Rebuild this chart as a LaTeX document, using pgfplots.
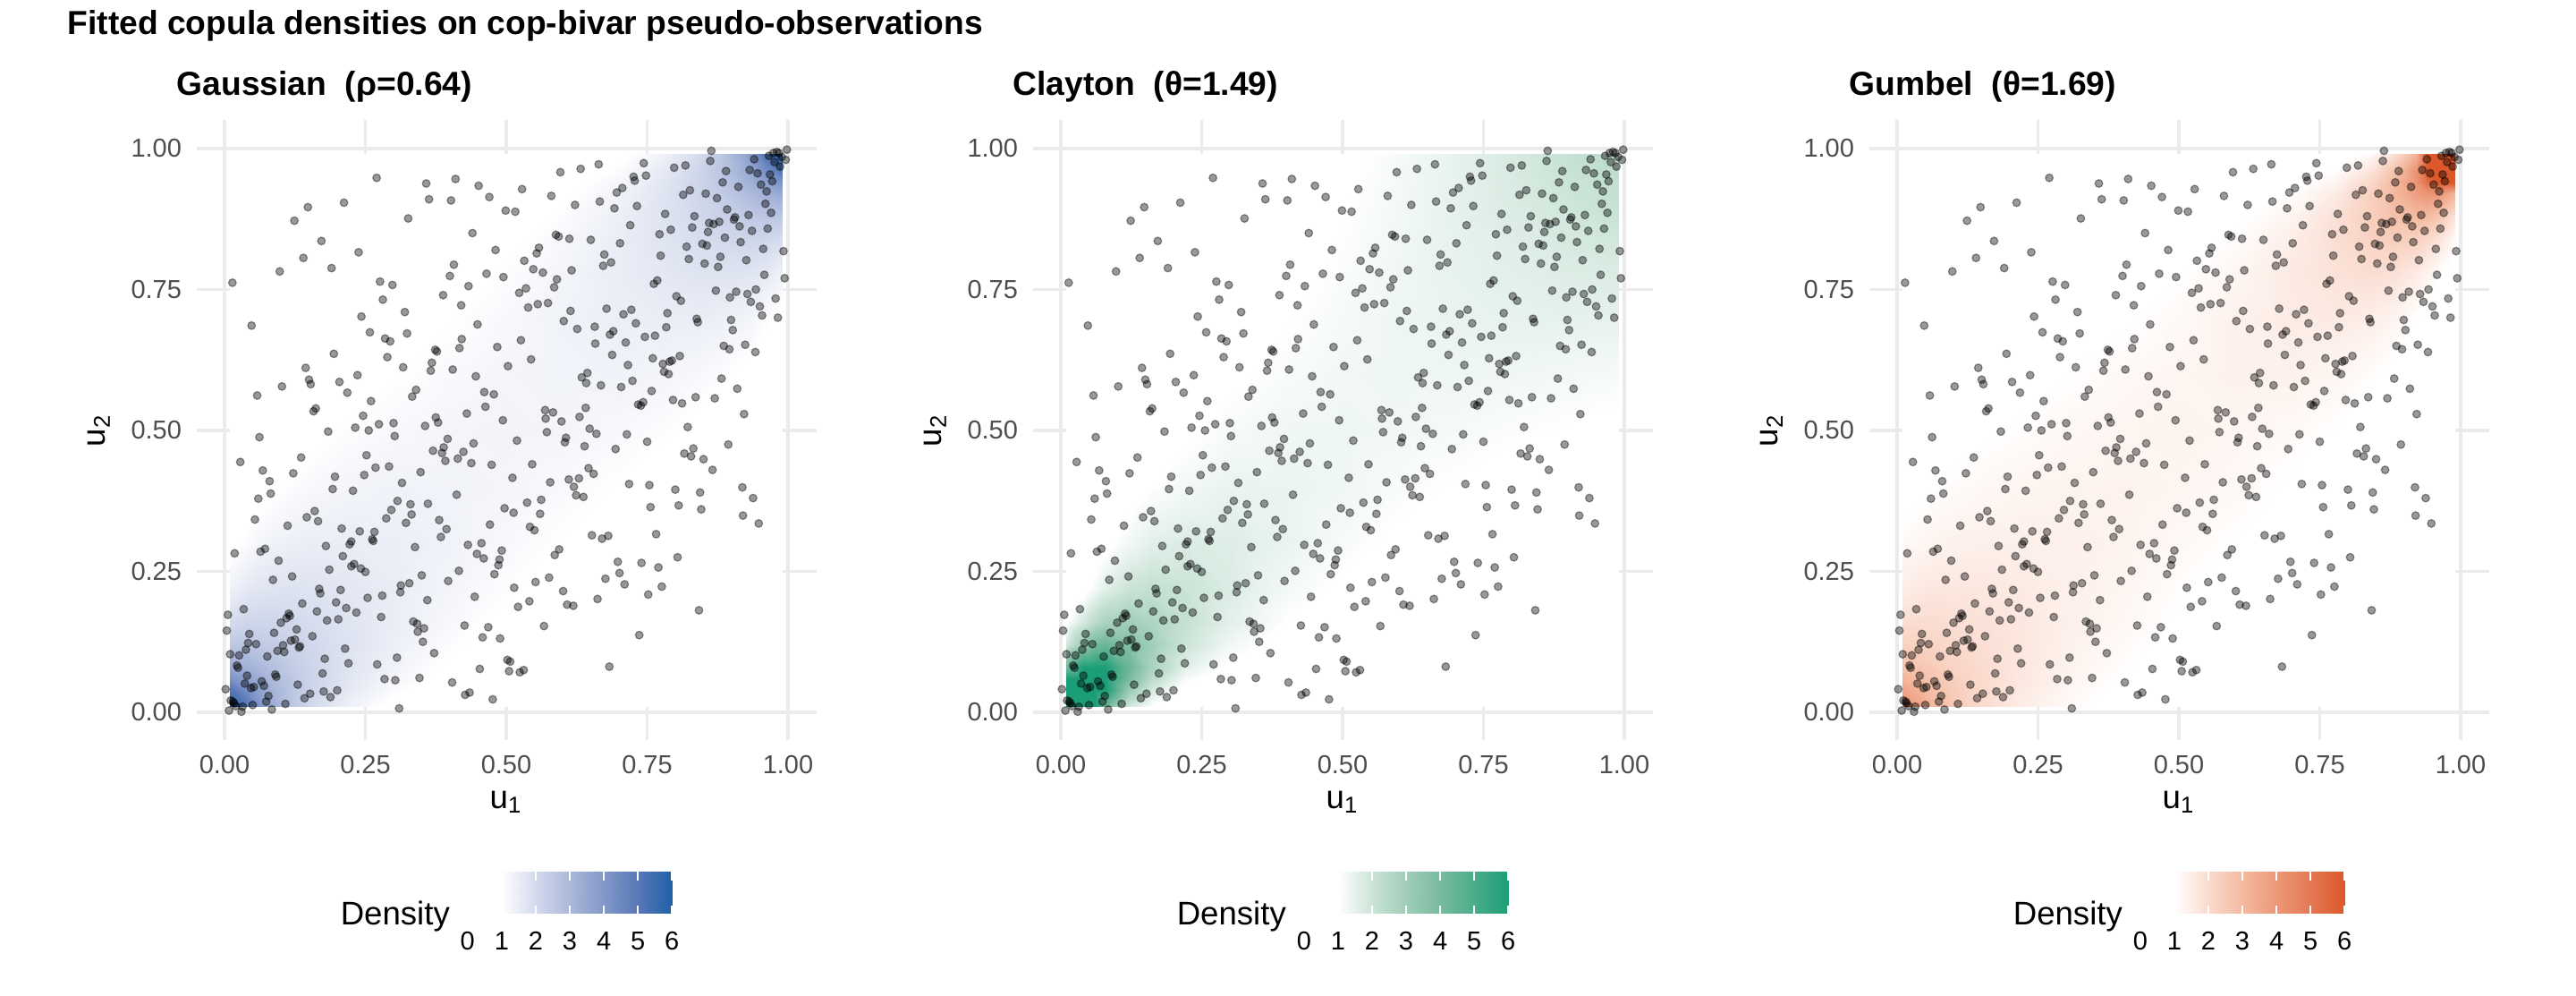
\documentclass[border=0pt]{standalone}
\usepackage{pgfplots}
\usepackage{pgfplotstable}
\usepackage{fontspec}
\pgfplotsset{compat=1.18}
\setmainfont{Liberation Sans}
\definecolor{gridc}{HTML}{EBEBEB}
\definecolor{tickc}{HTML}{4D4D4D}
\pgfplotsset{
 colormap={gauss}{rgb255(0)=(255,255,255) rgb255(1)=(255,255,255) rgb255(2)=(211,218,236) rgb255(3)=(170,184,218) rgb255(4)=(130,152,200) rgb255(5)=(88,120,184) rgb255(6)=(32,96,168)},
 colormap={clay}{rgb255(0)=(255,255,255) rgb255(1)=(255,255,255) rgb255(2)=(203,228,216) rgb255(3)=(160,206,184) rgb255(4)=(120,187,158) rgb255(5)=(75,172,138) rgb255(6)=(27,158,119)},
 colormap={gumb}{rgb255(0)=(255,255,255) rgb255(1)=(255,255,255) rgb255(2)=(250,218,205) rgb255(3)=(244,186,160) rgb255(4)=(236,152,120) rgb255(5)=(228,120,84) rgb255(6)=(220,88,42)},
}
\pgfplotstableread{
x y
0.270 0.948
0.358 0.938
0.410 0.946
0.451 0.934
0.470 0.914
0.499 0.890
0.363 0.910
0.402 0.908
0.212 0.904
0.148 0.896
0.124 0.872
0.326 0.876
0.440 0.850
0.481 0.820
0.172 0.836
0.238 0.816
0.140 0.806
0.190 0.788
0.098 0.782
0.407 0.794
0.400 0.774
0.465 0.778
0.495 0.772
0.014 0.762
0.276 0.764
0.298 0.758
0.433 0.756
0.281 0.732
0.388 0.740
0.420 0.722
0.320 0.710
0.243 0.702
0.449 0.688
0.048 0.686
0.258 0.674
0.324 0.672
0.864 0.996
0.998 0.998
0.862 0.978
0.940 0.981
0.966 0.987
0.974 0.992
0.980 0.994
0.984 0.992
0.989 0.985
0.996 0.980
0.976 0.976
0.986 0.968
0.744 0.974
0.664 0.972
0.632 0.964
0.596 0.958
0.798 0.966
0.818 0.970
0.890 0.960
0.932 0.962
0.946 0.956
0.968 0.954
0.972 0.942
0.748 0.952
0.726 0.950
0.728 0.943
0.884 0.940
0.912 0.932
0.952 0.936
0.962 0.924
0.528 0.928
0.706 0.930
0.696 0.922
0.826 0.926
0.814 0.918
0.854 0.920
0.874 0.912
0.580 0.916
0.666 0.906
0.622 0.900
0.960 0.902
0.692 0.894
0.732 0.898
0.892 0.892
0.516 0.888
0.782 0.884
0.834 0.880
0.970 0.886
0.930 0.882
0.906 0.878
0.904 0.874
0.860 0.868
0.868 0.866
0.878 0.870
0.720 0.864
0.914 0.862
0.830 0.860
0.792 0.856
0.936 0.854
0.964 0.858
0.858 0.852
0.772 0.848
0.588 0.847
0.593 0.844
0.612 0.840
0.650 0.838
0.888 0.842
0.916 0.834
0.702 0.832
0.848 0.831
0.856 0.828
0.820 0.826
0.558 0.824
0.956 0.822
0.992 0.818
0.554 0.814
0.674 0.812
0.774 0.810
0.880 0.808
0.532 0.801
0.824 0.804
0.926 0.802
0.686 0.798
0.852 0.796
0.672 0.792
0.876 0.790
0.548 0.786
0.565 0.780
0.616 0.784
0.958 0.776
0.994 0.770
0.590 0.768
0.768 0.766
0.762 0.760
0.585 0.754
0.535 0.752
0.523 0.744
0.872 0.748
0.908 0.746
0.943 0.750
0.928 0.742
0.897 0.736
0.978 0.734
0.802 0.738
0.810 0.730
0.934 0.728
0.539 0.718
0.556 0.724
0.574 0.726
0.950 0.720
0.614 0.712
0.678 0.716
0.722 0.714
0.708 0.706
0.786 0.708
0.954 0.704
0.982 0.700
0.838 0.698
0.840 0.692
0.899 0.696
0.602 0.694
0.730 0.690
0.657 0.684
0.626 0.680
0.784 0.683
0.902 0.678
0.690 0.676
0.684 0.670
0.285 0.663
0.294 0.658
0.421 0.662
0.484 0.648
0.417 0.646
0.374 0.643
0.377 0.640
0.194 0.636
0.289 0.630
0.368 0.620
0.503 0.614
0.144 0.611
0.317 0.612
0.366 0.606
0.405 0.608
0.446 0.596
0.236 0.598
0.150 0.590
0.204 0.586
0.153 0.582
0.102 0.578
0.218 0.567
0.058 0.562
0.340 0.572
0.333 0.560
0.461 0.568
0.478 0.564
0.260 0.552
0.463 0.542
0.162 0.539
0.158 0.534
0.430 0.530
0.246 0.526
0.375 0.523
0.379 0.514
0.494 0.518
0.300 0.513
0.274 0.511
0.356 0.508
0.232 0.505
0.256 0.500
0.184 0.498
0.302 0.490
0.062 0.488
0.396 0.485
0.442 0.477
0.389 0.470
0.370 0.464
0.386 0.460
0.424 0.462
0.252 0.456
0.136 0.452
0.414 0.450
0.392 0.446
0.028 0.444
0.438 0.442
0.474 0.439
0.292 0.436
0.268 0.434
0.068 0.429
0.348 0.426
0.122 0.424
0.248 0.421
0.196 0.418
0.080 0.410
0.315 0.407
0.192 0.396
0.228 0.393
0.082 0.388
0.412 0.386
0.060 0.379
0.307 0.375
0.330 0.369
0.361 0.370
0.497 0.362
0.296 0.359
0.160 0.357
0.332 0.351
0.146 0.346
0.287 0.344
0.054 0.342
0.166 0.339
0.381 0.341
0.322 0.336
0.471 0.333
0.112 0.331
0.208 0.326
0.394 0.325
0.240 0.321
0.266 0.320
0.526 0.660
0.658 0.654
0.712 0.656
0.746 0.666
0.764 0.668
0.886 0.650
0.896 0.644
0.924 0.652
0.942 0.639
0.544 0.626
0.688 0.634
0.760 0.628
0.808 0.632
0.794 0.624
0.790 0.622
0.778 0.618
0.716 0.616
0.780 0.604
0.788 0.600
0.644 0.602
0.634 0.594
0.882 0.592
0.724 0.588
0.642 0.584
0.668 0.580
0.704 0.577
0.910 0.574
0.758 0.570
0.836 0.559
0.796 0.554
0.870 0.557
0.812 0.548
0.743 0.550
0.734 0.546
0.739 0.544
0.569 0.536
0.583 0.532
0.641 0.540
0.922 0.529
0.630 0.524
0.570 0.521
0.598 0.516
0.822 0.506
0.648 0.503
0.572 0.497
0.660 0.494
0.714 0.493
0.519 0.482
0.606 0.487
0.604 0.479
0.750 0.480
0.639 0.472
0.894 0.475
0.694 0.467
0.832 0.468
0.816 0.459
0.828 0.454
0.850 0.449
0.546 0.440
0.866 0.430
0.646 0.433
0.655 0.423
0.511 0.416
0.629 0.415
0.611 0.413
0.578 0.408
0.718 0.405
0.754 0.403
0.620 0.400
0.919 0.399
0.800 0.395
0.844 0.390
0.624 0.385
0.637 0.382
0.938 0.380
0.562 0.377
0.537 0.372
0.756 0.364
0.806 0.367
0.846 0.360
0.513 0.354
0.560 0.352
0.920 0.349
0.948 0.335
0.542 0.329
0.550 0.323
0.018 0.282
0.064 0.285
0.072 0.290
0.180 0.295
0.222 0.298
0.225 0.303
0.262 0.307
0.264 0.304
0.338 0.293
0.384 0.311
0.432 0.297
0.456 0.300
0.492 0.287
0.448 0.281
0.460 0.273
0.488 0.271
0.486 0.261
0.096 0.269
0.210 0.277
0.230 0.263
0.225 0.259
0.242 0.255
0.186 0.253
0.250 0.249
0.416 0.251
0.479 0.245
0.120 0.241
0.086 0.235
0.350 0.243
0.397 0.233
0.328 0.229
0.313 0.225
0.168 0.219
0.170 0.211
0.206 0.217
0.312 0.213
0.280 0.207
0.254 0.203
0.444 0.205
0.360 0.199
0.138 0.193
0.198 0.195
0.216 0.185
0.034 0.183
0.164 0.179
0.234 0.177
0.006 0.173
0.114 0.175
0.116 0.171
0.110 0.167
0.100 0.159
0.182 0.163
0.202 0.165
0.278 0.169
0.335 0.161
0.342 0.157
0.426 0.154
0.468 0.151
0.354 0.149
0.343 0.143
0.004 0.145
0.128 0.147
0.088 0.141
0.044 0.139
0.156 0.135
0.458 0.133
0.489 0.131
0.042 0.123
0.056 0.121
0.125 0.129
0.118 0.127
0.352 0.125
0.104 0.119
0.134 0.117
0.132 0.115
0.038 0.111
0.214 0.113
0.094 0.109
0.106 0.107
0.010 0.103
0.026 0.101
0.076 0.099
0.372 0.105
0.178 0.095
0.306 0.097
0.502 0.093
0.507 0.090
0.220 0.087
0.271 0.085
0.022 0.083
0.024 0.079
0.453 0.077
0.174 0.069
0.040 0.065
0.090 0.067
0.092 0.063
0.284 0.059
0.303 0.057
0.346 0.061
0.505 0.073
0.066 0.055
0.036 0.051
0.404 0.053
0.070 0.047
0.130 0.049
0.052 0.045
0.047 0.043
0.002 0.041
0.200 0.039
0.176 0.037
0.152 0.033
0.435 0.035
0.427 0.031
0.078 0.029
0.142 0.025
0.188 0.027
0.476 0.023
0.074 0.019
0.011 0.021
0.015 0.019
0.017 0.016
0.050 0.013
0.108 0.015
0.032 0.010
0.020 0.011
0.084 0.005
0.008 0.003
0.030 0.001
0.310 0.007
0.652 0.314
0.670 0.308
0.681 0.313
0.766 0.316
0.594 0.289
0.586 0.279
0.804 0.275
0.698 0.267
0.740 0.265
0.770 0.257
0.701 0.247
0.576 0.239
0.676 0.237
0.552 0.231
0.710 0.227
0.776 0.223
0.514 0.221
0.601 0.215
0.752 0.209
0.541 0.197
0.662 0.201
0.608 0.191
0.619 0.189
0.521 0.187
0.842 0.181
0.567 0.153
0.736 0.137
0.683 0.081
0.531 0.075
0.524 0.071
}\pts
\pgfplotstableread{
x y g c h
0.01 0.01 6 6 4.38
0.04 0.01 5.13 6 3.65
0.06 0.01 4.15 6 3.12
0.08 0.01 3.47 4.20 2.80
0.12 0.01 2.55 1.80 2.27
0.16 0.01 1.95 1.00 1.90
0.22 0.01 1.37 0.30 1.49
0.30 0.01 0.88 0.14 1.14
0.40 0.01 0.52 0.06 0.83
0.50 0.01 0.30 0.03 0.60
0.60 0.01 0.16 0.02 0.44
0.70 0.01 0.08 0.01 0.30
0.78 0.01 0.04 0.01 0.22
0.84 0.01 0.02 0.01 0.16
0.88 0.01 0.01 0.01 0.13
0.92 0.01 0.01 0.01 0.09
0.94 0.01 0 0.01 0.07
0.96 0.01 0 0.01 0.05
0.99 0.01 0 0.01 0.03
0.01 0.04 5.13 6 3.65
0.04 0.04 4.30 6 3.20
0.06 0.04 3.72 6 2.86
0.08 0.04 3.26 6 2.62
0.12 0.04 2.59 3.20 2.23
0.16 0.04 2.11 1.80 1.93
0.22 0.04 1.58 0.75 1.58
0.30 0.04 1.11 0.37 1.24
0.40 0.04 0.71 0.19 0.92
0.50 0.04 0.45 0.11 0.69
0.60 0.04 0.25 0.07 0.50
0.70 0.04 0.13 0.05 0.36
0.78 0.04 0.06 0.04 0.26
0.84 0.04 0.03 0.03 0.19
0.88 0.04 0.02 0.03 0.15
0.92 0.04 0.01 0.03 0.11
0.94 0.04 0.01 0.03 0.09
0.96 0.04 0 0.02 0.06
0.99 0.04 0 0.02 0.04
0.01 0.06 4.15 6 3.12
0.04 0.06 3.72 6 2.86
0.06 0.06 3.34 6 2.64
0.08 0.06 3.03 6 2.49
0.12 0.06 2.52 4.00 2.16
0.16 0.06 2.13 2.40 1.93
0.22 0.06 1.68 1.18 1.63
0.30 0.06 1.24 0.62 1.30
0.40 0.06 0.84 0.33 0.99
0.50 0.06 0.56 0.20 0.75
0.60 0.06 0.34 0.13 0.56
0.70 0.06 0.19 0.09 0.39
0.78 0.06 0.09 0.07 0.29
0.84 0.06 0.05 0.06 0.21
0.88 0.06 0.02 0.05 0.17
0.92 0.06 0.01 0.05 0.12
0.94 0.06 0.01 0.04 0.10
0.96 0.06 0.01 0.04 0.07
0.99 0.06 0 0.04 0.04
0.01 0.08 3.47 4.20 2.80
0.04 0.08 3.26 6 2.62
0.06 0.08 3.03 6 2.49
0.08 0.08 2.81 6 2.32
0.12 0.08 2.43 4.30 2.10
0.16 0.08 2.12 2.80 1.91
0.22 0.08 1.73 1.55 1.64
0.30 0.08 1.33 0.86 1.35
0.40 0.08 0.94 0.47 1.05
0.50 0.08 0.66 0.29 0.81
0.60 0.08 0.43 0.19 0.60
0.70 0.08 0.25 0.13 0.43
0.78 0.08 0.13 0.11 0.31
0.84 0.08 0.07 0.09 0.23
0.88 0.08 0.03 0.08 0.18
0.92 0.08 0.02 0.07 0.13
0.94 0.08 0.01 0.07 0.10
0.96 0.08 0.01 0.07 0.08
0.99 0.08 0.01 0.06 0.05
0.01 0.12 2.55 1.80 2.27
0.04 0.12 2.59 3.20 2.23
0.06 0.12 2.52 4.00 2.16
0.08 0.12 2.43 4.30 2.10
0.12 0.12 2.23 3.70 1.97
0.16 0.12 2.03 3.00 1.84
0.22 0.12 1.75 2.01 1.65
0.30 0.12 1.43 1.27 1.40
0.40 0.12 1.09 0.76 1.13
0.50 0.12 0.81 0.49 0.90
0.60 0.12 0.57 0.33 0.68
0.70 0.12 0.36 0.24 0.50
0.78 0.12 0.21 0.19 0.37
0.84 0.12 0.12 0.16 0.27
0.88 0.12 0.06 0.14 0.21
0.92 0.12 0.03 0.13 0.15
0.94 0.12 0.02 0.12 0.12
0.96 0.12 0.02 0.12 0.09
0.99 0.12 0.01 0.11 0.05
0.01 0.16 1.95 1.00 1.90
0.04 0.16 2.11 1.80 1.93
0.06 0.16 2.13 2.40 1.93
0.08 0.16 2.12 2.80 1.91
0.12 0.16 2.03 3.00 1.84
0.16 0.16 1.91 2.70 1.77
0.22 0.16 1.73 2.17 1.63
0.30 0.16 1.48 1.54 1.43
0.40 0.16 1.19 1.01 1.21
0.50 0.16 0.92 0.68 0.97
0.60 0.16 0.69 0.48 0.76
0.70 0.16 0.48 0.35 0.57
0.78 0.16 0.30 0.28 0.42
0.84 0.16 0.19 0.24 0.31
0.88 0.16 0.12 0.22 0.24
0.92 0.16 0.07 0.20 0.17
0.94 0.16 0.05 0.19 0.14
0.96 0.16 0.03 0.18 0.10
0.99 0.16 0.01 0.17 0.06
0.01 0.22 1.37 0.30 1.49
0.04 0.22 1.58 0.75 1.58
0.06 0.22 1.68 1.18 1.63
0.08 0.22 1.73 1.55 1.64
0.12 0.22 1.75 2.01 1.65
0.16 0.22 1.73 2.17 1.63
0.22 0.22 1.64 2.05 1.55
0.30 0.22 1.49 1.70 1.43
0.40 0.22 1.28 1.25 1.28
0.50 0.22 1.06 0.92 1.06
0.60 0.22 0.84 0.69 0.87
0.70 0.22 0.62 0.52 0.66
0.78 0.22 0.45 0.43 0.49
0.84 0.22 0.30 0.37 0.37
0.88 0.22 0.21 0.34 0.29
0.92 0.22 0.13 0.31 0.21
0.94 0.22 0.09 0.30 0.17
0.96 0.22 0.06 0.29 0.13
0.99 0.22 0.04 0.28 0.07
0.01 0.30 0.88 0.14 1.14
0.04 0.30 1.11 0.37 1.24
0.06 0.30 1.24 0.62 1.30
0.08 0.30 1.33 0.86 1.35
0.12 0.30 1.43 1.27 1.40
0.16 0.30 1.48 1.54 1.43
0.22 0.30 1.49 1.70 1.43
0.30 0.30 1.45 1.65 1.42
0.40 0.30 1.34 1.41 1.33
0.50 0.30 1.18 1.16 1.19
0.60 0.30 1.00 0.93 1.01
0.70 0.30 0.80 0.75 0.80
0.78 0.30 0.62 0.64 0.61
0.84 0.30 0.48 0.56 0.46
0.88 0.30 0.36 0.52 0.37
0.92 0.30 0.25 0.48 0.26
0.94 0.30 0.19 0.46 0.21
0.96 0.30 0.13 0.45 0.16
0.99 0.30 0.08 0.44 0.09
0.01 0.40 0.52 0.06 0.83
0.04 0.40 0.71 0.19 0.92
0.06 0.40 0.84 0.33 0.99
0.08 0.40 0.94 0.47 1.05
0.12 0.40 1.09 0.76 1.13
0.16 0.40 1.19 1.01 1.21
0.22 0.40 1.28 1.25 1.28
0.30 0.40 1.34 1.41 1.33
0.40 0.40 1.33 1.40 1.35
0.50 0.40 1.27 1.30 1.28
0.60 0.40 1.16 1.14 1.18
0.70 0.40 1.00 0.99 0.97
0.78 0.40 0.84 0.88 0.76
0.84 0.40 0.69 0.80 0.59
0.88 0.40 0.57 0.76 0.47
0.92 0.40 0.43 0.71 0.35
0.94 0.40 0.34 0.69 0.28
0.96 0.40 0.25 0.67 0.21
0.99 0.40 0.16 0.65 0.13
0.01 0.50 0.30 0.03 0.60
0.04 0.50 0.45 0.11 0.69
0.06 0.50 0.56 0.20 0.75
0.08 0.50 0.66 0.29 0.81
0.12 0.50 0.81 0.49 0.90
0.16 0.50 0.92 0.68 0.97
0.22 0.50 1.06 0.92 1.06
0.30 0.50 1.18 1.16 1.19
0.40 0.50 1.27 1.30 1.28
0.50 0.50 1.30 1.32 1.34
0.60 0.50 1.27 1.27 1.26
0.70 0.50 1.18 1.19 1.16
0.78 0.50 1.06 1.10 1.00
0.84 0.50 0.92 1.04 0.81
0.88 0.50 0.81 1.01 0.66
0.92 0.50 0.66 0.97 0.49
0.94 0.50 0.56 0.94 0.40
0.96 0.50 0.45 0.92 0.30
0.99 0.50 0.30 0.90 0.18
0.01 0.60 0.16 0.02 0.44
0.04 0.60 0.25 0.07 0.50
0.06 0.60 0.34 0.13 0.56
0.08 0.60 0.43 0.19 0.60
0.12 0.60 0.57 0.33 0.68
0.16 0.60 0.69 0.48 0.76
0.22 0.60 0.84 0.69 0.87
0.30 0.60 1.00 0.93 1.01
0.40 0.60 1.16 1.14 1.18
0.50 0.60 1.27 1.27 1.26
0.60 0.60 1.33 1.33 1.39
0.70 0.60 1.34 1.33 1.38
0.78 0.60 1.28 1.30 1.25
0.84 0.60 1.19 1.27 1.08
0.88 0.60 1.09 1.25 0.91
0.92 0.60 0.94 1.22 0.69
0.94 0.60 0.84 1.21 0.57
0.96 0.60 0.71 1.20 0.42
0.99 0.60 0.52 1.18 0.26
0.01 0.70 0.08 0.01 0.30
0.04 0.70 0.13 0.05 0.36
0.06 0.70 0.19 0.09 0.39
0.08 0.70 0.25 0.13 0.43
0.12 0.70 0.36 0.24 0.50
0.16 0.70 0.48 0.35 0.57
0.22 0.70 0.62 0.52 0.66
0.30 0.70 0.80 0.75 0.80
0.40 0.70 1.00 0.99 0.97
0.50 0.70 1.18 1.19 1.16
0.60 0.70 1.34 1.33 1.38
0.70 0.70 1.45 1.42 1.55
0.78 0.70 1.49 1.46 1.58
0.84 0.70 1.48 1.47 1.48
0.88 0.70 1.43 1.48 1.31
0.92 0.70 1.33 1.49 1.03
0.94 0.70 1.24 1.47 0.86
0.96 0.70 1.11 1.48 0.65
0.99 0.70 0.88 1.48 0.40
0.01 0.78 0.04 0.01 0.22
0.04 0.78 0.06 0.04 0.26
0.06 0.78 0.09 0.07 0.29
0.08 0.78 0.13 0.11 0.31
0.12 0.78 0.21 0.19 0.37
0.16 0.78 0.30 0.28 0.42
0.22 0.78 0.45 0.43 0.49
0.30 0.78 0.62 0.64 0.61
0.40 0.78 0.84 0.88 0.76
0.50 0.78 1.06 1.10 1.00
0.60 0.78 1.28 1.30 1.25
0.70 0.78 1.49 1.46 1.58
0.78 0.78 1.64 1.54 1.80
0.84 0.78 1.73 1.59 1.90
0.88 0.78 1.75 1.65 1.83
0.92 0.78 1.73 1.68 1.55
0.94 0.78 1.68 1.67 1.35
0.96 0.78 1.58 1.70 1.06
0.99 0.78 1.37 1.70 0.67
0.01 0.84 0.02 0.01 0.16
0.04 0.84 0.03 0.03 0.19
0.06 0.84 0.05 0.06 0.21
0.08 0.84 0.07 0.09 0.23
0.12 0.84 0.12 0.16 0.27
0.16 0.84 0.19 0.24 0.31
0.22 0.84 0.30 0.37 0.37
0.30 0.84 0.48 0.56 0.46
0.40 0.84 0.69 0.80 0.59
0.50 0.84 0.92 1.04 0.81
0.60 0.84 1.19 1.27 1.08
0.70 0.84 1.48 1.47 1.48
0.78 0.84 1.73 1.59 1.90
0.84 0.84 1.91 1.69 2.23
0.88 0.84 2.03 1.76 2.38
0.92 0.84 2.12 1.82 2.28
0.94 0.84 2.13 1.83 2.07
0.96 0.84 2.11 1.87 1.74
0.99 0.84 1.95 1.89 1.13
0.01 0.88 0.01 0.01 0.13
0.04 0.88 0.02 0.03 0.15
0.06 0.88 0.02 0.05 0.17
0.08 0.88 0.03 0.08 0.18
0.12 0.88 0.06 0.14 0.21
0.16 0.88 0.12 0.22 0.24
0.22 0.88 0.21 0.34 0.29
0.30 0.88 0.36 0.52 0.37
0.40 0.88 0.57 0.76 0.47
0.50 0.88 0.81 1.01 0.66
0.60 0.88 1.09 1.25 0.91
0.70 0.88 1.43 1.48 1.31
0.78 0.88 1.75 1.65 1.83
0.84 0.88 2.03 1.76 2.38
0.88 0.88 2.23 1.84 2.77
0.92 0.88 2.43 1.93 2.99
0.94 0.88 2.52 1.94 2.95
0.96 0.88 2.59 2.00 2.60
0.99 0.88 2.55 2.03 1.73
0.01 0.92 0.01 0.01 0.09
0.04 0.92 0.01 0.03 0.11
0.06 0.92 0.01 0.05 0.12
0.08 0.92 0.02 0.07 0.13
0.12 0.92 0.03 0.13 0.15
0.16 0.92 0.07 0.20 0.17
0.22 0.92 0.13 0.31 0.21
0.30 0.92 0.25 0.48 0.26
0.40 0.92 0.43 0.71 0.35
0.50 0.92 0.66 0.97 0.49
0.60 0.92 0.94 1.22 0.69
0.70 0.92 1.33 1.49 1.03
0.78 0.92 1.73 1.68 1.55
0.84 0.92 2.12 1.82 2.28
0.88 0.92 2.43 1.93 2.99
0.92 0.92 2.81 2.03 3.83
0.94 0.92 3.03 2.05 4.10
0.96 0.92 3.26 2.13 4.10
0.99 0.92 3.47 2.17 3.18
0.01 0.94 0 0.01 0.07
0.04 0.94 0.01 0.03 0.09
0.06 0.94 0.01 0.04 0.10
0.08 0.94 0.01 0.07 0.10
0.12 0.94 0.02 0.12 0.12
0.16 0.94 0.05 0.19 0.14
0.22 0.94 0.09 0.30 0.17
0.30 0.94 0.19 0.46 0.21
0.40 0.94 0.34 0.69 0.28
0.50 0.94 0.56 0.94 0.40
0.60 0.94 0.84 1.21 0.57
0.70 0.94 1.24 1.47 0.86
0.78 0.94 1.68 1.67 1.35
0.84 0.94 2.13 1.83 2.07
0.88 0.94 2.52 1.94 2.95
0.92 0.94 3.03 2.05 4.10
0.94 0.94 3.34 2.08 5.20
0.96 0.94 3.72 2.17 6
0.99 0.94 4.15 2.20 6
0.01 0.96 0 0.01 0.05
0.04 0.96 0 0.02 0.06
0.06 0.96 0.01 0.04 0.07
0.08 0.96 0.01 0.07 0.08
0.12 0.96 0.02 0.12 0.09
0.16 0.96 0.03 0.18 0.10
0.22 0.96 0.06 0.29 0.13
0.30 0.96 0.13 0.45 0.16
0.40 0.96 0.25 0.67 0.21
0.50 0.96 0.45 0.92 0.30
0.60 0.96 0.71 1.20 0.42
0.70 0.96 1.11 1.48 0.65
0.78 0.96 1.58 1.70 1.06
0.84 0.96 2.11 1.87 1.74
0.88 0.96 2.59 2.00 2.60
0.92 0.96 3.26 2.13 4.10
0.94 0.96 3.72 2.17 6
0.96 0.96 4.30 2.26 6
0.99 0.96 5.13 2.30 6
0.01 0.99 0 0.01 0.03
0.04 0.99 0 0.02 0.04
0.06 0.99 0 0.04 0.04
0.08 0.99 0.01 0.06 0.05
0.12 0.99 0.01 0.11 0.05
0.16 0.99 0.02 0.17 0.06
0.22 0.99 0.04 0.28 0.07
0.30 0.99 0.08 0.44 0.09
0.40 0.99 0.16 0.65 0.13
0.50 0.99 0.30 0.90 0.18
0.60 0.99 0.52 1.18 0.26
0.70 0.99 0.88 1.48 0.40
0.78 0.99 1.37 1.70 0.67
0.84 0.99 1.95 1.89 1.13
0.88 0.99 2.55 2.03 1.73
0.92 0.99 3.47 2.17 3.18
0.94 0.99 4.15 2.20 6
0.96 0.99 5.13 2.30 6
0.99 0.99 6 2.36 6
}\dens
\pgfplotstableread{
x y
0 0
1 0
2 0
3 0
4 0
5 0
6 0
0 1
1 1
2 1
3 1
4 1
5 1
6 1
}\barpts
\newcommand{\panel}[4]{%
 \begin{axis}[
  at={({54.875pt+#1*233.75pt},71.375pt)}, anchor=south west,
  scale only axis, width=173.25pt, height=173.25pt,
  xmin=-0.05,xmax=1.05,ymin=-0.05,ymax=1.05,
  axis line style={draw=none}, tick style={draw=none},
  grid=major, grid style={draw=gridc,line width=0.8pt},
  xtick={0,0.25,0.5,0.75,1}, ytick={0,0.25,0.5,0.75,1},
  xticklabels={0.00,0.25,0.50,0.75,1.00},
  yticklabels={0.00,0.25,0.50,0.75,1.00},
  tick label style={font=\fontsize{7.25}{8}\selectfont,text=tickc},
  xticklabel style={yshift=-0.6pt},
  yticklabel style={xshift=-0.6pt},
  colormap name=#2, point meta min=0, point meta max=6,
  xlabel={u\textsubscript{1}}, ylabel={u\textsubscript{2}},
  label style={font=\fontsize{9.15}{10}\selectfont},
  xlabel style={at={(axis description cs:0.5,-0.11)},anchor=base},
  ylabel style={at={(axis description cs:-0.1472,0.5)},anchor=base},
  title={#4},
  title style={font=\fontsize{9.3}{10}\selectfont\bfseries,at={(axis description cs:-0.0325,1.0397)},anchor=base west,inner sep=0pt,yshift=-6pt},
 ]
 \addplot[surf,shader=interp,mesh/rows=19,mesh/cols=19,point meta=\thisrow{#3}] table[x=x,y=y] \dens;
 \addplot[only marks,mark=*,mark size=1.08pt,mark options={draw=black,fill=black,fill opacity=0.4,draw opacity=0.4,line width=0.3pt}] table[x=x,y=y] \pts;
 \end{axis}
 \begin{axis}[
  at={({130.7pt+#1*233.75pt},23.07pt)}, anchor=south west,
  scale only axis, width=57.1pt, height=11.6pt,
  xmin=0,xmax=6,ymin=0,ymax=1,
  axis line style={draw=none}, axis on top,
  xtick={0,1,2,3,4,5,6}, ytick=\empty,
  xtick pos=both, xticklabel pos=lower, tick align=inside,
  major tick length=2.3pt,
  tick style={draw=white,line width=0.4pt},
  tick label style={font=\fontsize{7.25}{8}\selectfont,text=black},
  xticklabels={0,1,2,3,4,5,6},
  xticklabel style={yshift=-1.6pt},
  colormap name=#2, point meta min=0, point meta max=6,
 ]
 \addplot[surf,shader=interp,mesh/rows=2,mesh/cols=7,point meta=\thisrow{x}] table[x=x,y=y] \barpts;
 \end{axis}
 \node[anchor=base west,inner sep=0pt,font=\fontsize{9.15}{10}\selectfont] at ({95pt+#1*233.75pt},19.75pt) {Density};
}
\begin{document}
\begin{tikzpicture}
\path[use as bounding box] (0,0) rectangle (720pt,278.25pt);
\node[anchor=base west,inner sep=0pt,font=\fontsize{9.3}{10}\selectfont\bfseries] at (18.7pt,268.5pt) {Fitted copula densities on cop-bivar pseudo-observations};
\panel{0}{gauss}{g}{Gaussian\ \ (ρ=0.64)}
\panel{1}{clay}{c}{Clayton\ \ (θ=1.49)}
\panel{2}{gumb}{h}{Gumbel\ \ (θ=1.69)}
\end{tikzpicture}
\end{document}
